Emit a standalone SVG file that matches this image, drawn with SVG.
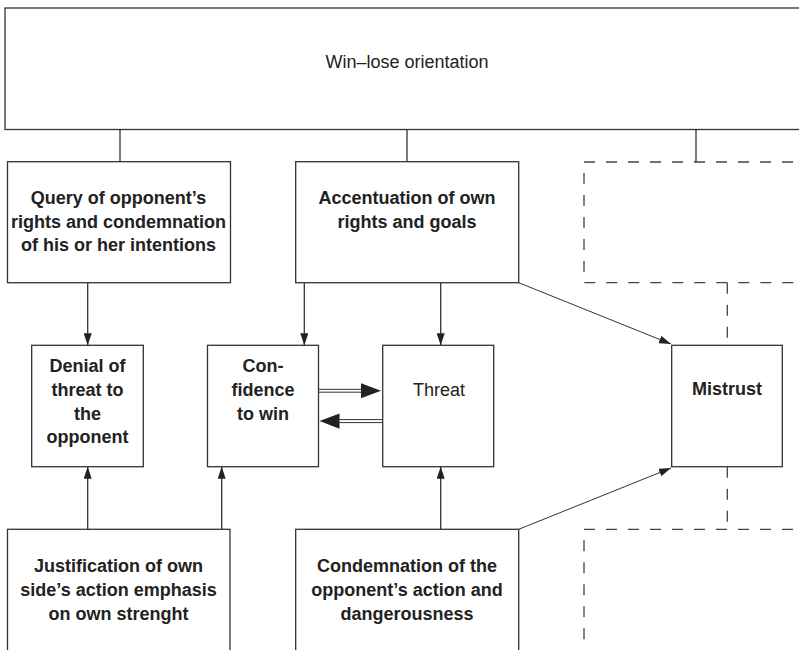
<svg xmlns="http://www.w3.org/2000/svg" width="799" height="650" viewBox="0 0 799 650">
  <style>
    .box { fill: #fff; stroke: #333; stroke-width: 1.3; }
    .dash { fill: none; stroke: #444; stroke-width: 1.3; stroke-dasharray: 11 11; }
    .link { fill: none; stroke: #333; stroke-width: 1.3; }
    .thin { fill: none; stroke: #333; stroke-width: 1; }
    .head { fill: #222; }
    text { font-family: "Liberation Sans", Arial, sans-serif; font-size: 18px; fill: #222; text-anchor: middle; }
    .b { font-weight: bold; }
  </style>
  <defs>
    <marker id="arr" markerUnits="userSpaceOnUse" markerWidth="12" markerHeight="8" refX="12" refY="4" orient="auto">
      <path d="M0,0 L12,4 L0,8 z" fill="#222"/>
    </marker>
  </defs>
  <rect width="799" height="650" fill="#fff"/>

  <!-- top frame -->
  <g id="win-lose">
    <rect class="box" x="5" y="8" width="810" height="121.5"/>
    <text x="407" y="68">Win–lose orientation</text>
  </g>

  <!-- dashed outline areas on the right -->
  <g id="dashed-upper">
    <path class="dash" d="M815,162 H584 V282.7 H815"/>
  </g>
  <g id="dashed-lower">
    <path class="dash" d="M815,529.3 H584 V660"/>
  </g>

  <g id="query">
    <rect class="box" x="7.5" y="161.7" width="223" height="121"/>
    <text class="b" x="118.5" y="203.5">Query of opponent’s</text>
    <text class="b" x="118.5" y="227.5">rights and condemnation</text>
    <text class="b" x="118.5" y="251">of his or her intentions</text>
  </g>

  <g id="accentuation">
    <rect class="box" x="295.7" y="161.7" width="223" height="121"/>
    <text class="b" x="407" y="203.5">Accentuation of own</text>
    <text class="b" x="407" y="227.5">rights and goals</text>
  </g>

  <g id="denial">
    <rect class="box" x="31.7" y="345.3" width="111.6" height="121.4"/>
    <text class="b" x="87.5" y="371.5">Denial of</text>
    <text class="b" x="87.5" y="395.5">threat to</text>
    <text class="b" x="87.5" y="419.5">the</text>
    <text class="b" x="87.5" y="443">opponent</text>
  </g>

  <g id="confidence">
    <rect class="box" x="207.5" y="345.3" width="111" height="121.4"/>
    <text class="b" x="263" y="371.5">Con-</text>
    <text class="b" x="263" y="395.5">fidence</text>
    <text class="b" x="263" y="419.5">to win</text>
  </g>

  <g id="threat">
    <rect class="box" x="382.7" y="345.3" width="111" height="121.4"/>
    <text x="439" y="395.5">Threat</text>
  </g>

  <g id="mistrust">
    <rect class="box" x="671.7" y="345.3" width="110.6" height="121.4"/>
    <text class="b" x="727" y="395">Mistrust</text>
  </g>

  <g id="justification">
    <rect class="box" x="7.5" y="529.3" width="222.5" height="135"/>
    <text class="b" x="118.5" y="571.5">Justification of own</text>
    <text class="b" x="118.5" y="595.5">side’s action emphasis</text>
    <text class="b" x="118.5" y="619.5">on own strenght</text>
  </g>

  <g id="condemnation">
    <rect class="box" x="295.7" y="529.3" width="223" height="135"/>
    <text class="b" x="407" y="571.5">Condemnation of the</text>
    <text class="b" x="407" y="595.5">opponent’s action and</text>
    <text class="b" x="407" y="619.5">dangerousness</text>
  </g>

  <g id="connectors">
    <!-- from the top frame -->
    <path class="link" d="M120,129.5 V161.7"/>
    <path class="link" d="M407,129.5 V161.7"/>
    <path class="link" d="M696,129.5 V162"/>
    <!-- downward arrows -->
    <path class="link" d="M87.7,282.7 V345.3" marker-end="url(#arr)"/>
    <path class="link" d="M304.3,282.7 V345.3" marker-end="url(#arr)"/>
    <path class="link" d="M440.7,282.7 V345.3" marker-end="url(#arr)"/>
    <path class="thin" d="M518.7,282.7 L671,344" marker-end="url(#arr)"/>
    <!-- upward arrows -->
    <path class="link" d="M87.7,529.3 V466.7" marker-end="url(#arr)"/>
    <path class="link" d="M221.7,529.3 V466.7" marker-end="url(#arr)"/>
    <path class="link" d="M440.7,529.3 V466.7" marker-end="url(#arr)"/>
    <path class="thin" d="M518.7,529.3 L671,468" marker-end="url(#arr)"/>
    <!-- dashed links through Mistrust -->
    <path class="dash" d="M727.3,282.7 V345.3"/>
    <path class="dash" d="M727.3,466.7 V529.3"/>
    <!-- double-line arrows between Confidence and Threat -->
    <path class="thin" d="M318.5,389.3 H362 M318.5,392.2 H362"/>
    <polygon class="head" points="361,383.3 381,390.8 361,398.3"/>
    <path class="thin" d="M338,419.6 H382.7 M338,422.6 H382.7"/>
    <polygon class="head" points="339.5,413.5 319.5,421.1 339.5,428.7"/>
  </g>
</svg>
